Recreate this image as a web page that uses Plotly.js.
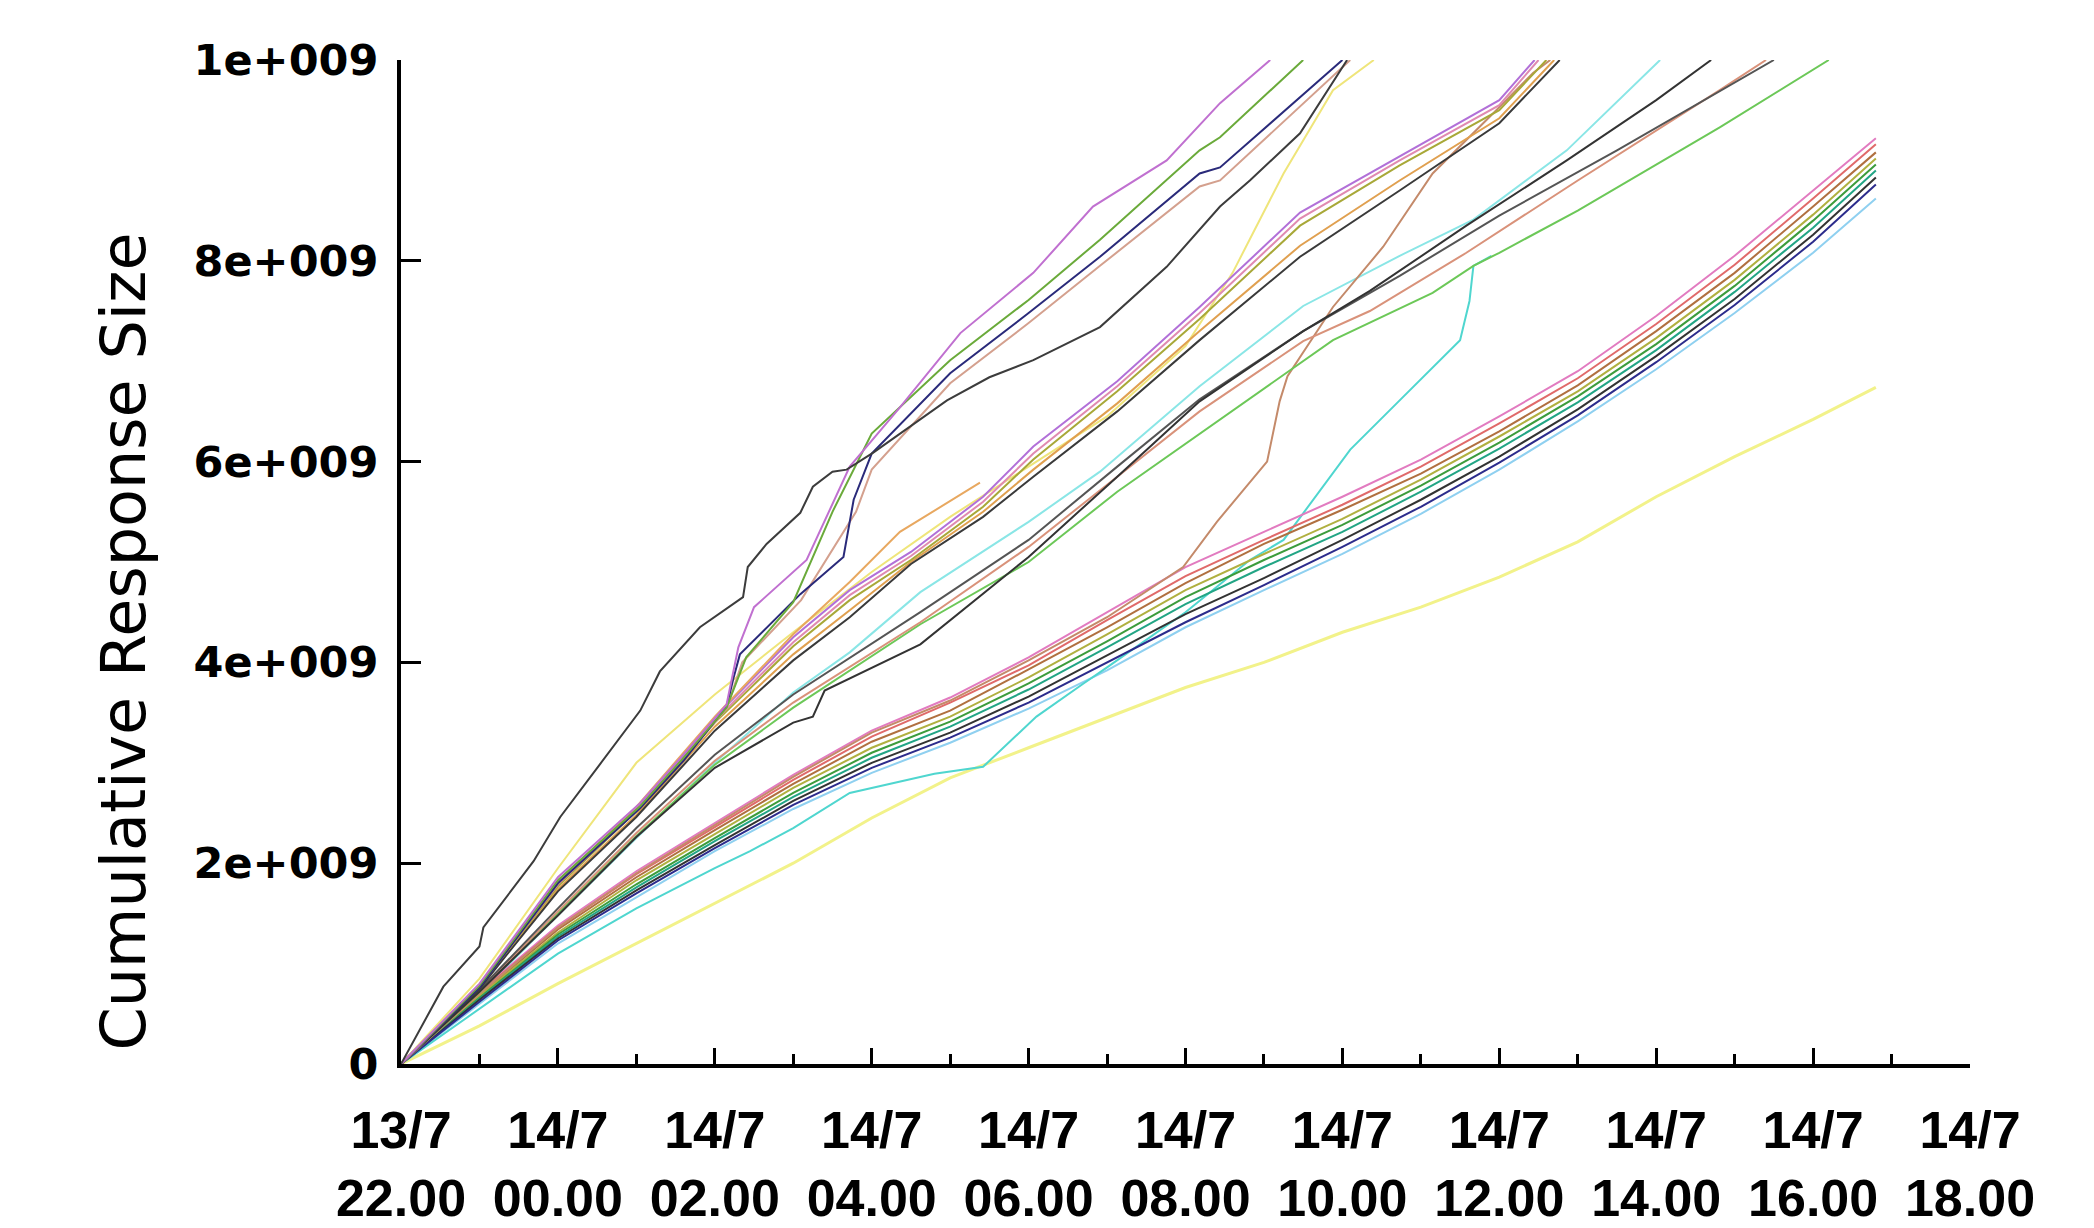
<!DOCTYPE html>
<html>
<head>
<meta charset="utf-8">
<script src="https://cdn.plot.ly/plotly-3.0.1.min.js"></script>
<style>html,body{margin:0;padding:0;background:#fff;}#chart{width:2094px;height:1228px;}</style>
</head>
<body>
<div id="chart"></div>
<script>
// x: hours after 13/7 22.00 ; y: cumulative response size in units of 1e9
const xTickHours = [0, 2, 4, 6, 8, 10, 12, 14, 16, 18, 20];
const xTickLabels = ['13/7<br>22.00', '14/7<br>00.00', '14/7<br>02.00', '14/7<br>04.00', '14/7<br>06.00', '14/7<br>08.00', '14/7<br>10.00', '14/7<br>12.00', '14/7<br>14.00', '14/7<br>16.00', '14/7<br>18.00'];
const yTickValues = [0, 2, 4, 6, 8, 10];
const yTickLabels = ['0', '2e+009', '4e+009', '6e+009', '8e+009', '1e+009'];

// Lower bundle (shared time grid)
const hoursD = [0,1,2,3,4,5,6,7,8,9,10,11,12,13,14,15,16,17,18,18.8];
const sizeD1 = [0,0.72,1.38,1.92,2.40,2.88,3.32,3.65,4.05,4.50,4.95,5.30,5.65,6.02,6.45,6.90,7.45,8.05,8.70,9.22];
const sizeD2 = [0,0.71,1.36,1.89,2.36,2.83,3.26,3.60,3.97,4.42,4.86,5.22,5.57,5.95,6.38,6.83,7.37,7.96,8.62,9.16];
const sizeD3 = [0,0.69,1.34,1.86,2.33,2.79,3.21,3.52,3.93,4.35,4.79,5.18,5.52,5.88,6.30,6.76,7.30,7.88,8.54,9.08];
const sizeD4 = [0,0.68,1.31,1.83,2.29,2.75,3.15,3.46,3.85,4.28,4.72,5.08,5.43,5.82,6.25,6.70,7.23,7.81,8.46,9.02];
const sizeD5 = [0,0.66,1.29,1.79,2.25,2.70,3.10,3.41,3.79,4.21,4.65,5.02,5.37,5.76,6.19,6.65,7.17,7.75,8.40,8.96];
const sizeD6 = [0,0.65,1.27,1.76,2.22,2.66,3.05,3.36,3.73,4.15,4.58,4.95,5.30,5.70,6.13,6.59,7.11,7.69,8.33,8.90];
const sizeD7 = [0,0.64,1.25,1.73,2.18,2.62,3.00,3.30,3.66,4.07,4.48,4.84,5.22,5.62,6.05,6.52,7.05,7.62,8.26,8.83];
const sizeD8 = [0,0.62,1.23,1.70,2.15,2.58,2.95,3.25,3.60,4.00,4.40,4.77,5.15,5.55,5.99,6.46,6.99,7.56,8.19,8.76];
const sizeD9 = [0,0.60,1.20,1.66,2.12,2.54,2.90,3.20,3.54,3.92,4.35,4.72,5.08,5.48,5.92,6.40,6.92,7.48,8.08,8.62];

// Lowest (yellow)
const hoursY = [0,1,2,3,4,5,6,7,8,9,10,11,12,13,14,15,16,17,18,18.8];
const sizeY  = [0,0.38,0.80,1.20,1.60,2.00,2.45,2.85,3.15,3.45,3.75,4.00,4.30,4.55,4.85,5.20,5.65,6.05,6.42,6.74];

// Risers leaving the lower bundle
const hoursR1 = [0,1,2,3,4,5,6,7,8,9,9.97,10.4,11.04,11.2,11.3,11.88,12.52,13.15,14.0,14.43,14.65];
const sizeR1  = [0,0.70,1.36,1.90,2.38,2.86,3.30,3.62,4.02,4.45,4.95,5.40,6.00,6.60,6.85,7.54,8.14,8.87,9.53,9.87,10.0];
const hoursR2 = [0,1,2,3,4,4.45,5,5.72,6.8,7.42,8.1,8.7,9,10,10.82,11.25,12.1,12.73,13.5,13.62,13.67,13.9];
const sizeR2  = [0,0.55,1.10,1.55,1.95,2.12,2.35,2.70,2.89,2.96,3.46,3.79,3.95,4.50,5.02,5.22,6.12,6.61,7.21,7.60,7.95,8.05];

// Middle bundle
const hoursC1 = [0,1,2,3,4,5,5.72,6.62,8,8.91,10.18,11.5,12.73,13.67,14.86,16.05];
const sizeC1  = [0,0.70,1.48,2.25,3.00,3.70,4.10,4.70,5.40,5.90,6.75,7.55,8.05,8.41,9.10,10.0];
const hoursC2 = [0,1,2,3,4,5,5.25,5.4,6.62,8,9.13,10.18,11.5,12.35,13.58,14.86,16.0,16.7];
const sizeC2  = [0,0.72,1.48,2.26,2.95,3.40,3.46,3.72,4.18,5.05,5.85,6.60,7.30,7.70,8.35,9.00,9.60,10.0];
const hoursC3 = [0,1,2,3,4,5,6.62,8,9.13,10.18,11.5,12.35,13.58,15,16.81,17.4];
const sizeC3  = [0,0.73,1.52,2.30,3.02,3.60,4.40,5.15,5.85,6.50,7.20,7.50,8.08,8.80,9.70,10.0];
const hoursC4 = [0,1,2,3,4,5,6.62,8,9.13,10.18,11.88,13.15,13.67,14.0,15,16.81,18.2];
const sizeC4  = [0,0.72,1.50,2.27,2.98,3.55,4.38,5.00,5.70,6.28,7.21,7.68,7.95,8.08,8.50,9.33,10.0];
const hoursC5 = [0,1,2,3,4,5,6.62,8,9.13,10.18,11.5,12.73,14,15.5,17.5];
const sizeC5  = [0,0.74,1.55,2.35,3.08,3.68,4.50,5.22,5.95,6.62,7.30,7.85,8.45,9.10,10.0];

// Second bundle
const hoursB1 = [0,1,2,3,4,5,5.72,6.5,7.42,8.06,9.13,10.18,11.46,12.73,14.0,14.45];
const sizeB1  = [0,0.78,1.80,2.55,3.45,4.25,4.72,5.10,5.65,6.15,6.80,7.54,8.48,9.04,9.60,10.0];
const hoursB2 = [0,1,2,3,4,5,5.72,6.5,7.42,8.06,9.13,10.18,11.46,12.73,14.0,14.6];
const sizeB2  = [0,0.77,1.77,2.52,3.40,4.16,4.62,5.02,5.55,6.02,6.70,7.42,8.35,8.95,9.50,10.0];
const hoursB3 = [0,1,2,3,4,5,5.72,6.5,7.42,8.06,9.13,10.18,11.46,12.73,14.0,14.77];
const sizeB3  = [0,0.75,1.72,2.46,3.32,4.02,4.45,4.98,5.45,5.85,6.50,7.21,8.04,8.70,9.37,10.0];
const hoursB4 = [0,1,2,3,4,5,5.72,6.5,7.42,8.06,9.13,10.18,11.46,12.73,14.0,14.7];
const sizeB4  = [0,0.76,1.74,2.48,3.36,4.08,4.52,5.00,5.50,5.92,6.58,7.30,8.15,8.80,9.42,10.0];
const hoursB5 = [0,1,2,3,4,5,5.72,6.5,7.42,8.06,9.13,10.18,11.46,12.73,14.0,14.5];
const sizeB5  = [0,0.77,1.79,2.53,3.42,4.20,4.67,5.06,5.60,6.08,6.75,7.48,8.42,9.00,9.55,10.0];
const hoursB6 = [0,1,2,3,4,5,5.72,6.36,7.38];
const sizeB6  = [0,0.78,1.80,2.56,3.46,4.28,4.80,5.30,5.79];

// Top bundle
const hoursL1 = [0,0.54,1.0,1.05,1.69,2.03,2.54,3.05,3.3,3.81,4.36,4.42,4.66,5.09,5.25,5.5,5.68,6.02,6.96,7.5,8.06,8.91,9.76,10.44,10.82,11.46,12.06];
const sizeL1  = [0,0.77,1.17,1.36,2.02,2.46,2.99,3.52,3.91,4.35,4.65,4.95,5.18,5.49,5.75,5.90,5.92,6.09,6.61,6.84,7.01,7.34,7.94,8.54,8.80,9.27,10.0];
const hoursA1 = [0,1,2,3.05,3.6,4.15,4.3,4.5,5.17,5.72,6.36,7.13,8.06,8.82,9.76,10.44,11.08];
const sizeA1  = [0,0.80,1.86,2.60,3.08,3.58,4.15,4.55,5.02,5.95,6.54,7.28,7.88,8.54,9.00,9.57,10.0];
const hoursA2 = [0,1,2,3.05,3.6,4.15,4.4,5.0,5.5,6.0,7.0,8.0,8.91,10.18,10.44,11.5];
const sizeA2  = [0,0.78,1.83,2.57,3.05,3.55,4.05,4.60,5.50,6.28,7.01,7.61,8.21,9.10,9.23,10.0];
const hoursA3 = [0,1,2,3.05,3.6,4.15,4.24,4.32,5.09,5.64,5.77,6.0,7.0,8.0,8.91,10.18,10.44,12.0];
const sizeA3  = [0,0.76,1.80,2.55,3.02,3.56,3.85,4.08,4.68,5.05,5.62,6.08,6.88,7.48,8.04,8.87,8.93,10.0];
const hoursA4 = [0,1,2,3.05,3.6,4.15,4.35,5.1,5.8,6.0,7.0,8.0,8.91,10.18,10.44,12.1];
const sizeA4  = [0,0.77,1.82,2.56,3.04,3.54,4.00,4.62,5.50,5.92,6.78,7.38,7.95,8.74,8.80,10.0];
const hoursA5 = [0,1,2,3,4,5,6,7,8,9,10,10.6,11.25,11.88,12.4];
const sizeA5  = [0,0.85,1.95,3.00,3.68,4.30,4.90,5.45,5.95,6.45,7.15,7.88,8.87,9.70,10.0];

const series = [
  [hoursY, sizeY, '#f2f28a', 3],
  [hoursD, sizeD9, '#8fd0f0', 2],
  [hoursR2, sizeR2, '#4fd6cf', 2],
  [hoursC1, sizeC1, '#8ae6e6', 2],
  [hoursA5, sizeA5, '#efe57a', 2],
  [hoursD, sizeD1, '#e27bc0', 2],
  [hoursD, sizeD2, '#e06a6a', 2],
  [hoursD, sizeD3, '#b07040', 2],
  [hoursD, sizeD4, '#b0b040', 2],
  [hoursD, sizeD5, '#3c9c3c', 2],
  [hoursD, sizeD6, '#22a585', 2],
  [hoursD, sizeD7, '#333333', 2],
  [hoursD, sizeD8, '#2c2c8c', 2],
  [hoursR1, sizeR1, '#c48a6a', 2],
  [hoursC4, sizeC4, '#6cc858', 2],
  [hoursC3, sizeC3, '#d9927a', 2],
  [hoursC5, sizeC5, '#555555', 2],
  [hoursC2, sizeC2, '#333333', 2],
  [hoursB4, sizeB4, '#e0a050', 2],
  [hoursB3, sizeB3, '#3a3a3a', 2],
  [hoursB2, sizeB2, '#a8a838', 2],
  [hoursB5, sizeB5, '#e08ab0', 2],
  [hoursB1, sizeB1, '#b270d8', 2],
  [hoursB6, sizeB6, '#e8a860', 2],
  [hoursA4, sizeA4, '#d4a08e', 2],
  [hoursA3, sizeA3, '#2a2a7a', 2],
  [hoursA2, sizeA2, '#6aaa3a', 2],
  [hoursA1, sizeA1, '#c070d0', 2],
  [hoursL1, sizeL1, '#3c3c3c', 2]
];

const traces = series.map(s => ({
  type: 'scatter', mode: 'lines', x: s[0], y: s[1],
  line: {color: s[2], width: s[3]}, hoverinfo: 'skip', showlegend: false
}));

const layout = {
  width: 2094, height: 1228,
  margin: {l: 401, r: 124, t: 60, b: 164},
  paper_bgcolor: '#ffffff', plot_bgcolor: '#ffffff',
  showlegend: false,
  xaxis: {
    range: [0, 20], tickmode: 'array', tickvals: xTickHours, ticktext: xTickLabels,
    ticks: 'inside', ticklen: 16, tickwidth: 3, tickcolor: '#000',
    showline: true, linewidth: 4, linecolor: '#000',
    showgrid: false, zeroline: false, ticklabelstandoff: 18,
    tickfont: {family: 'Liberation Sans, Arial, sans-serif', size: 52, color: '#000', weight: 'bold'},
    minor: {dtick: 1, tick0: 0, ticks: 'inside', ticklen: 10, tickwidth: 3, tickcolor: '#000', showgrid: false}
  },
  yaxis: {
    range: [0, 10], tickmode: 'array', tickvals: yTickValues, ticktext: yTickLabels,
    ticks: 'inside', ticklen: 20, tickwidth: 3, tickcolor: '#000',
    showline: true, linewidth: 4, linecolor: '#000',
    showgrid: false, zeroline: false, ticklabelstandoff: 10,
    tickfont: {family: 'DejaVu Sans, sans-serif', size: 43, color: '#000', weight: 'bold'}
  },
  annotations: [{
    text: 'Cumulative Response Size', textangle: -90,
    xref: 'paper', yref: 'paper', x: -0.177, y: 0.421,
    xanchor: 'center', yanchor: 'middle', showarrow: false,
    font: {family: 'DejaVu Sans, sans-serif', size: 62, color: '#000'}
  }]
};

Plotly.newPlot('chart', traces, layout, {displayModeBar: false, staticPlot: true});
</script>
</body>
</html>
